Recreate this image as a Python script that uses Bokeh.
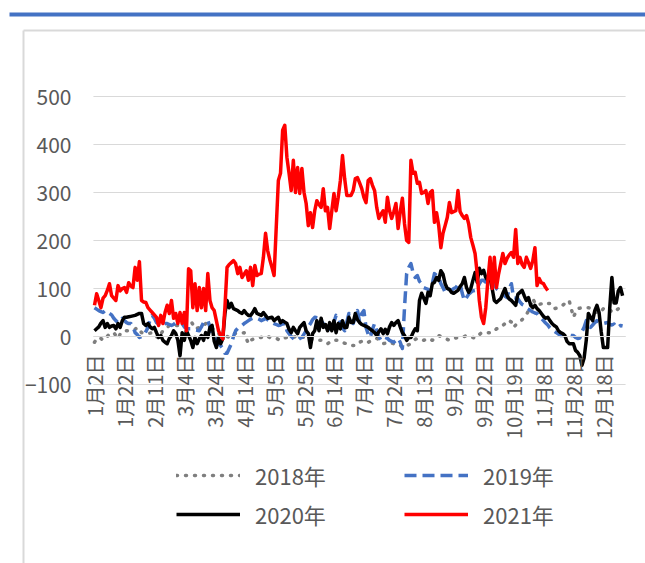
import math
from bokeh.plotting import figure
from bokeh.models import Range1d, LinearAxis, FixedTicker, Legend, LegendItem, Grid
from bokeh.embed import file_html
from bokeh.resources import INLINE

# ---------------- data ----------------
tick_idx = [0, 14, 28, 42, 56, 70, 84, 98, 112, 126, 140, 154, 168, 182, 196, 210, 224, 238]
tick_labels = ["1月2日", "1月22日", "2月11日", "3月4日", "3月24日", "4月14日", "5月5日", "5月25日",
               "6月14日", "7月4日", "7月24日", "8月13日", "9月2日", "9月22日", "10月19日", "11月8日",
               "11月28日", "12月18日"]
y_ticks = [-100, 0, 100, 200, 300, 400, 500]

s2018 = [-12, -5, -2, -4, -8, -4, 0, 6, 7, 8,
         2, -4, 5, 10, 12, 12, 12, 12, 13, 15,
         19, 14, 8, 7, 6, 7, 7, 8, 6, 0,
         -4, 5, 12, 16, 19, 23, 22, 21, 23, 23,
         23, 25, 27, 29, 31, 33, 25, 16, 17, 19,
         19, 23, 27, 25, 23, 18, 12, 8, 6, 4,
         2, 2, 0, -2, 0, 6, 6, 6, 6, 7,
         8, -4, -15, -8, -6, -4, -3, -2, -2, 0,
         2, 0, -2, -2, -2, -4, -6, -8, -5, -3,
         -2, -3, -4, -2, 0, 2, 0, -1, -2, -3,
         -4, -5, -6, -8, -8, -8, -8, -10, -13, -15,
         -12, -8, -8, -8, -8, -10, -12, -14, -15, -17,
         -19, -19, -19, -17, -12, -10, -8, -10, -12, -10,
         -8, -6, -4, -6, -10, -15, -14, -13, -12, -14,
         -15, -15, -15, -18, -23, -21, -19, -17, -15, -10,
         -6, -4, -4, -6, -8, -6, -4, -6, -8, -4,
         0, 2, 0, -2, -4, -6, -8, -6, -4, -3,
         -2, -2, -2, 0, 2, 0, -2, -2, -4, 0,
         4, 8, 8, 8, 8, 8, 8, 12, 16, 17,
         19, 23, 27, 27, 33, 30, 19, 24, 29, 32,
         35, 40, 45, 54, 60, 79, 70, 65, 67, 68,
         71, 70, 69, 69, 64, 58, 59, 60, 62, 65,
         69, 72, 75, 58, 40, 50, 58, 59, 60, 60,
         60, 60, 59, 58, 55, 50, 48, 53, 58, 60,
         58, 55, 52, 50, 54, 58, 58, 58]

s2019 = [60, 57, 54, 52, 50, 54, 50, 48, 45, 38,
         33, 29, 33, 38, 33, 29, 27, 27, 20, 8,
         4, -2, 0, 2, 10, 19, 35, 44, 38, 29,
         26, 23, 25, 27, 27, 25, 23, 25, 29, 28,
         27, 27, 20, 16, 16, 16, 15, 14, 13, 12,
         20, 29, 30, 33, 20, 6, 2, -5, -15, -19,
         -25, -35, -35, -25, -15, 0, 12, 17, 19, 23,
         27, 30, 33, 36, 38, 38, 38, 36, 33, 35,
         38, 35, 33, 30, 27, 25, 23, 24, 26, 27,
         12, 6, 0, -4, -6, -8, -4, -2, 5, 12,
         20, 27, 35, 40, 39, 38, 33, 27, 23, 19,
         15, 12, 30, 44, 40, 27, 18, 12, 30, 48,
         38, 27, 40, 54, 30, 48, 54, 19, 5, -2,
         15, 27, 12, 0, -8, -4, -2, -4, -8, -10,
         -12, -8, -4, -12, -25, 60, 131, 144, 152, 133,
         123, 127, 115, 110, 102, 100, 98, 92, 110, 131,
         127, 123, 110, 102, 92, 100, 98, 96, 100, 102,
         108, 110, 90, 75, 81, 88, 92, 95, 96, 100,
         110, 117, 117, 113, 110, 117, 112, 108, 100, 96,
         92, 88, 84, 81, 100, 110, 81, 80, 79, 72,
         67, 65, 60, 57, 54, 51, 49, 48, 42, 38,
         33, 28, 24, 18, 14, 11, 8, 5, 2, 2,
         4, 6, 3, 2, 2, -2, -4, -3, 10, 19,
         33, 26, 19, 24, 29, 33, 30, 29, 27, 28,
         29, 25, 24, 26, 19, 20, 23, 22]

s2020 = [12, 16, 20, 28, 33, 19, 27, 19, 22, 23,
         16, 27, 19, 33, 40, 40, 41, 42, 43, 44,
         46, 48, 48, 27, 23, 27, 20, 16, 19, 8,
         -2, 2, -8, -12, -15, -4, 2, 12, 6, -8,
         -40, 8, -8, 12, 2, -8, -23, -2, -15, -5,
         2, -8, 8, -2, 19, 23, -10, -23, -2, -15,
         -5, 48, 75, 60, 69, 58, 56, 54, 50, 48,
         54, 48, 44, 44, 50, 58, 48, 46, 44, 50,
         44, 38, 39, 40, 33, 37, 40, 29, 33, 30,
         27, 15, 8, 19, 12, 6, 19, 24, 29, 12,
         6, -23, 6, 12, 33, 12, 38, 19, 25, 12,
         29, 12, 33, 8, 27, 16, 33, 19, 19, 40,
         29, 29, 48, 35, 29, 25, 23, 21, 19, 15,
         12, 8, 2, 10, 16, 6, 15, 6, 20, 29,
         23, 29, 33, 20, 8, 2, -8, -2, -2, 8,
         16, 12, 75, 90, 80, 69, 92, 85, 110, 113,
         123, 117, 137, 130, 110, 100, 98, 92, 90, 93,
         96, 104, 110, 123, 102, 92, 100, 117, 133, 113,
         142, 131, 138, 123, 117, 123, 100, 75, 71, 75,
         79, 90, 100, 85, 78, 75, 70, 65, 88, 92,
         96, 85, 75, 81, 65, 60, 65, 58, 54, 48,
         42, 38, 40, 33, 27, 23, 20, 12, 8, 6,
         2, -10, -15, -15, -15, -29, -33, -40, -60, -45,
         -8, 48, 40, 33, 54, 65, 50, 10, -23, -23,
         -23, 60, 123, 70, 70, 95, 102, 85]

s2021 = [65, 89, 75, 60, 80, 85, 96, 110, 85, 80,
         75, 106, 95, 100, 102, 92, 112, 105, 102, 144,
         117, 156, 75, 72, 71, 60, 55, 50, 45, 40,
         23, 44, 27, 50, 65, 48, 75, 38, 48, 27,
         50, 27, 50, 12, 141, 137, 60, 110, 54, 102,
         60, 100, 54, 131, 75, 60, 54, 33, 12, 2,
         -5, 60, 144, 150, 154, 158, 152, 131, 144, 123,
         130, 137, 117, 144, 106, 148, 127, 130, 131, 165,
         215, 179, 160, 144, 127, 227, 325, 340, 430, 440,
         373, 340, 304, 367, 300, 352, 298, 350, 300, 277,
         231, 258, 227, 262, 283, 275, 269, 308, 262, 269,
         225, 262, 298, 262, 290, 325, 377, 329, 294, 294,
         294, 304, 329, 331, 320, 308, 290, 279, 325, 329,
         315, 304, 269, 246, 255, 262, 238, 290, 262, 246,
         260, 277, 225, 260, 288, 235, 200, 196, 367, 340,
         342, 319, 321, 298, 300, 304, 277, 300, 304, 238,
         258, 231, 185, 215, 231, 248, 279, 258, 260, 262,
         304, 260, 252, 246, 252, 235, 206, 190, 173, 131,
         75, 40, 27, 60, 117, 165, 100, 165, 102, 130,
         152, 173, 152, 163, 170, 175, 165, 223, 152, 165,
         150, 144, 165, 154, 142, 158, 185, 106, 121, 112,
         110, 102, 96]

series_names = ["2018年", "2019年", "2020年", "2021年"]

# ---------------- geometry ----------------
W, H = 645, 563
PX0 = 94.0        # canvas x (px) of category index 0
STEP = 2.138      # px per category
ZERO_PY = 336.0   # canvas y (px from top) of value 0
PPU = 0.48        # px per value unit

x_start = -PX0 / STEP
x_end = (W - PX0) / STEP
y_end = ZERO_PY / PPU
y_start = (ZERO_PY - H) / PPU


def fx(px):
    return x_start + px * (x_end - x_start) / W


def fy(py):
    return y_end - py * (y_end - y_start) / H


FONT = "Noto Sans CJK SC"
TXT = "#595959"
GRID = "#D9D9D9"
X_LAST = 248.4
LW = 3.5

p = figure(width=W, height=H, x_range=Range1d(x_start, x_end), y_range=Range1d(y_start, y_end),
           output_backend="svg", toolbar_location=None, x_axis_location=None, y_axis_location=None,
           min_border=0, min_border_left=0, min_border_right=0, min_border_top=0, min_border_bottom=0,
           outline_line_color=None, background_fill_color="white", border_fill_color="white")
for r in list(p.center):
    if isinstance(r, Grid):
        r.visible = False

# decorations: top blue rule and chart-area frame
p.quad(left=fx(9), right=fx(W + 20), top=fy(12), bottom=fy(16), fill_color="#4472C4", line_color=None)
p.segment(x0=[fx(23), fx(23)], y0=[fy(30), fy(30)], x1=[fx(23), fx(W + 20)], y1=[fy(H + 20), fy(30)],
          line_color="#D9D9D9", line_width=2)

# gridlines
p.segment(x0=[-0.5] * len(y_ticks), x1=[X_LAST] * len(y_ticks), y0=y_ticks, y1=y_ticks,
          line_color=GRID, line_width=1)

r18 = p.line(list(range(len(s2018))), s2018, line_color="#7F7F7F", line_width=LW, line_dash="1 8",
             line_cap="round", line_join="round")
r19 = p.line(list(range(len(s2019))), s2019, line_color="#4472C4", line_width=LW, line_dash="12 6",
             line_join="round")
r20 = p.line(list(range(len(s2020))), s2020, line_color="#000000", line_width=LW, line_join="round")
r21 = p.line(list(range(len(s2021))), s2021, line_color="#FF0000", line_width=LW, line_join="round")

# axes
yaxis = LinearAxis(fixed_location=0, ticker=FixedTicker(ticks=y_ticks), axis_line_color=None,
                   major_tick_line_color=None, minor_tick_line_color=None, major_tick_in=0, major_tick_out=0,
                   major_label_standoff=23, major_label_text_font=FONT, major_label_text_font_size="21px",
                   major_label_text_color=TXT)
p.add_layout(yaxis, "left")

xaxis = LinearAxis(fixed_location=0, ticker=FixedTicker(ticks=tick_idx),
                   major_label_overrides={i: lab for i, lab in zip(tick_idx, tick_labels)},
                   major_label_orientation=math.pi / 2, bounds=(-0.5, X_LAST),
                   axis_line_color=GRID, axis_line_width=1,
                   major_tick_line_color=None, minor_tick_line_color=None, major_tick_in=0, major_tick_out=0,
                   major_label_standoff=18, major_label_text_font=FONT, major_label_text_font_size="20px",
                   major_label_text_color=TXT)
p.add_layout(xaxis, "below")

legend = Legend(items=[LegendItem(label=series_names[0], renderers=[r18]),
                       LegendItem(label=series_names[1], renderers=[r19]),
                       LegendItem(label=series_names[2], renderers=[r20]),
                       LegendItem(label=series_names[3], renderers=[r21])],
                orientation="horizontal", ncols=2, location=(176, 33),
                glyph_width=64, glyph_height=30, label_height=30, label_width=142, label_standoff=15,
                spacing=7, padding=0, margin=0, border_line_color=None, background_fill_alpha=0,
                label_text_font=FONT, label_text_font_size="22px", label_text_color=TXT)
p.add_layout(legend, "center")

open("out.html", "w").write(file_html(p, INLINE))
